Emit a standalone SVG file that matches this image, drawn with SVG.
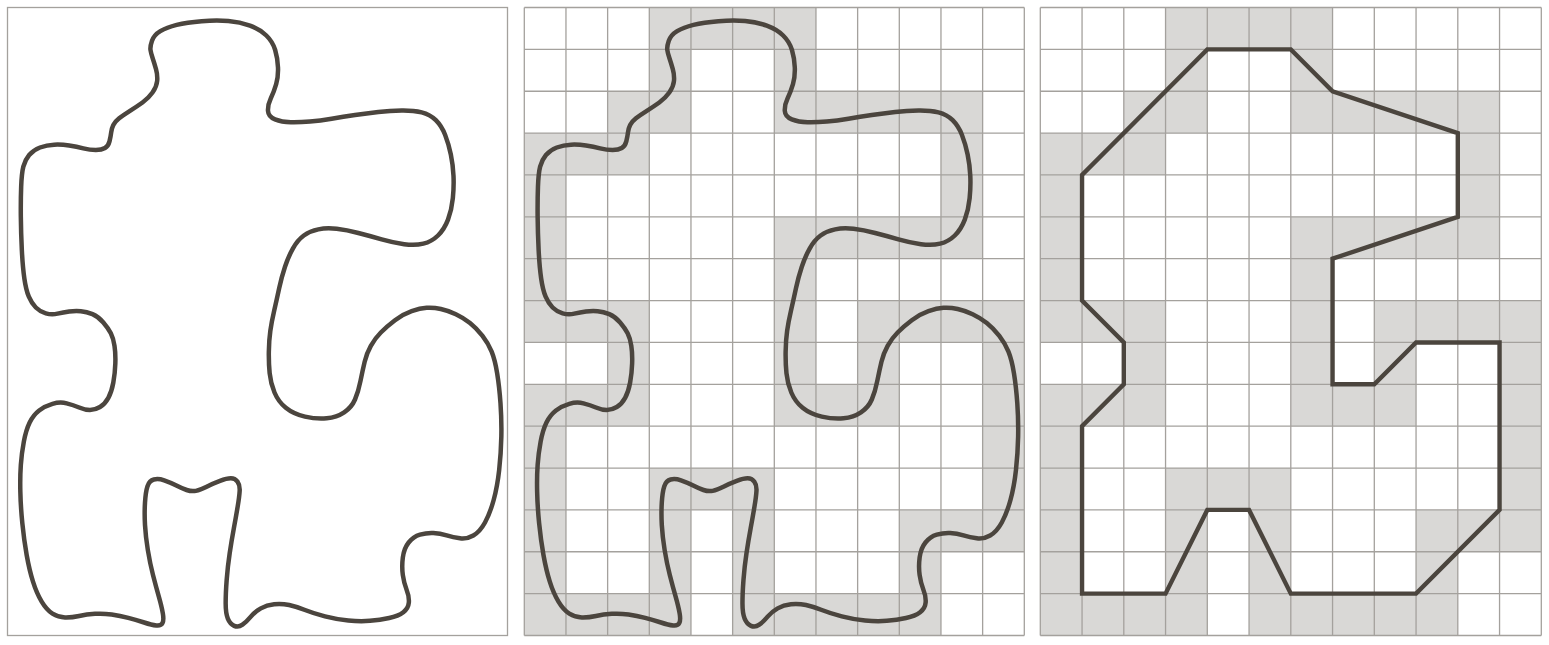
<svg xmlns="http://www.w3.org/2000/svg" xmlns:xlink="http://www.w3.org/1999/xlink" width="1549" height="645" viewBox="0 0 1549 645">
<style>
.shade{fill:#d9d8d6}
.grid{fill:none;stroke:#a4a19d;stroke-width:1.3}
.frame{fill:none;stroke:#a4a19d;stroke-width:1.3}
.blob{fill:none;stroke:#4b453e;stroke-width:13.5;stroke-linejoin:round}
.poly{fill:none;stroke:#4b453e;stroke-width:4.4;stroke-linejoin:miter}
</style>
<defs>
<g id="cells">
<rect x="3" y="0" width="4" height="1"/>
<rect x="3" y="1" width="1" height="1"/><rect x="6" y="1" width="1" height="1"/>
<rect x="2" y="2" width="2" height="1"/><rect x="6" y="2" width="5" height="1"/>
<rect x="0" y="3" width="3" height="1"/><rect x="10" y="3" width="1" height="1"/>
<rect x="0" y="4" width="1" height="1"/><rect x="10" y="4" width="1" height="1"/>
<rect x="0" y="5" width="1" height="1"/><rect x="6" y="5" width="5" height="1"/>
<rect x="0" y="6" width="1" height="1"/><rect x="6" y="6" width="1" height="1"/>
<rect x="0" y="7" width="3" height="1"/><rect x="6" y="7" width="1" height="1"/><rect x="8" y="7" width="4" height="1"/>
<rect x="2" y="8" width="1" height="1"/><rect x="6" y="8" width="1" height="1"/><rect x="8" y="8" width="1" height="1"/><rect x="11" y="8" width="1" height="1"/>
<rect x="0" y="9" width="3" height="1"/><rect x="6" y="9" width="3" height="1"/><rect x="11" y="9" width="1" height="1"/>
<rect x="0" y="10" width="1" height="1"/><rect x="11" y="10" width="1" height="1"/>
<rect x="0" y="11" width="1" height="1"/><rect x="3" y="11" width="3" height="1"/><rect x="11" y="11" width="1" height="1"/>
<rect x="0" y="12" width="1" height="1"/><rect x="3" y="12" width="1" height="1"/><rect x="5" y="12" width="1" height="1"/><rect x="9" y="12" width="3" height="1"/>
<rect x="0" y="13" width="1" height="1"/><rect x="3" y="13" width="1" height="1"/><rect x="5" y="13" width="1" height="1"/><rect x="9" y="13" width="1" height="1"/>
<rect x="0" y="14" width="4" height="1"/><rect x="5" y="14" width="5" height="1"/>
</g>
<path id="gridlines" vector-effect="non-scaling-stroke" d="M0 0V15M1 0V15M2 0V15M3 0V15M4 0V15M5 0V15M6 0V15M7 0V15M8 0V15M9 0V15M10 0V15M11 0V15M12 0V15M0 0H12M0 1H12M0 2H12M0 3H12M0 4H12M0 5H12M0 6H12M0 7H12M0 8H12M0 9H12M0 10H12M0 11H12M0 12H12M0 13H12M0 14H12M0 15H12"/>
<path id="blob" d="M451.5,150 Q450,140 456,122.5 Q462,105 481,93.5 Q500,82 530,74.5 Q560,67 605,63.5 Q650,60 685,63 Q720,66 750,77 Q780,88 799,106.5 Q818,125 825.5,150 Q833,175 834,202.5 Q835,230 828.5,252.5 Q822,275 812.5,295 Q803,315 804,332.5 Q805,350 825,358 Q845,366 872.5,366.5 Q900,367 930,364.5 Q960,362 995,356 Q1030,350 1065,345 Q1100,340 1135,336 Q1170,332 1205,331.5 Q1240,331 1265,337 Q1290,343 1307.5,360.5 Q1325,378 1335.5,405 Q1346,432 1352.5,463.5 Q1359,495 1360.5,527.5 Q1362,560 1358.5,595 Q1355,630 1344,659 Q1333,688 1314,706.5 Q1295,725 1270,731 Q1245,737 1212.5,732.5 Q1180,728 1145,718 Q1110,708 1075,699 Q1040,690 1010,686.5 Q980,683 955,688 Q930,693 911.5,706.5 Q893,720 879,745 Q865,770 855,800 Q845,830 837.5,865 Q830,900 822.5,932.5 Q815,965 811,992.5 Q807,1020 806.5,1055 Q806,1090 809,1120 Q812,1150 823.5,1177.5 Q835,1205 857.5,1223.5 Q880,1242 915,1250 Q950,1258 980,1255 Q1010,1252 1032.5,1237 Q1055,1222 1065,1198.5 Q1075,1175 1081.5,1142.5 Q1088,1110 1094,1085 Q1100,1060 1112.5,1037.5 Q1125,1015 1142.5,997.5 Q1160,980 1185,961 Q1210,942 1235,933.5 Q1260,925 1280,923.5 Q1300,922 1322.5,927 Q1345,932 1367.5,942.5 Q1390,953 1410,969 Q1430,985 1447.5,1007.5 Q1465,1030 1475,1055 Q1485,1080 1491.5,1120 Q1498,1160 1501.5,1210 Q1505,1260 1504,1310 Q1503,1360 1497.5,1410 Q1492,1460 1481,1500 Q1470,1540 1455,1567.5 Q1440,1595 1420,1606.5 Q1400,1618 1380,1615 Q1360,1612 1340,1606 Q1320,1600 1300,1599 Q1280,1598 1260,1604 Q1240,1610 1226,1627.5 Q1212,1645 1208.5,1672.5 Q1205,1700 1208.5,1725 Q1212,1750 1220,1770 Q1228,1790 1226.5,1807.5 Q1225,1825 1210,1836.5 Q1195,1848 1167.5,1854 Q1140,1860 1110,1862.5 Q1080,1865 1045,1861.5 Q1010,1858 975,1849 Q940,1840 915,1830 Q890,1820 867.5,1815 Q845,1810 822.5,1812.5 Q800,1815 782.5,1825 Q765,1835 752.5,1850 Q740,1865 727.5,1874 Q715,1883 702.5,1877.5 Q690,1872 683.5,1856 Q677,1840 677,1810 Q677,1780 680,1740 Q683,1700 689,1660 Q695,1620 701.5,1585 Q708,1550 713,1520 Q718,1490 719,1472.5 Q720,1455 712.5,1445 Q705,1435 692.5,1435 Q680,1435 660,1442.5 Q640,1450 620,1460 Q600,1470 587.5,1472.5 Q575,1475 560,1470 Q545,1465 527.5,1456 Q510,1447 492.5,1441 Q475,1435 461.5,1438.5 Q448,1442 442.5,1458.5 Q437,1475 435,1507.5 Q433,1540 435,1575 Q437,1610 443.5,1650 Q450,1690 459,1725 Q468,1760 476.5,1790 Q485,1820 488.5,1840 Q492,1860 487.5,1869 Q483,1878 469,1876.5 Q455,1875 432.5,1867.5 Q410,1860 385,1853.5 Q360,1847 335,1843.5 Q310,1840 285,1841.5 Q260,1843 237.5,1848 Q215,1853 195,1852.5 Q175,1852 157.5,1841 Q140,1830 125,1805 Q110,1780 99,1745 Q88,1710 80,1665 Q72,1620 67,1570 Q62,1520 61,1475 Q60,1430 62.5,1395 Q65,1360 71.5,1325 Q78,1290 89,1267.5 Q100,1245 117.5,1231.5 Q135,1218 157.5,1211.5 Q180,1205 200,1210 Q220,1215 237.5,1222.5 Q255,1230 270,1230 Q285,1230 300,1221 Q315,1212 325,1193.5 Q335,1175 340,1147.5 Q345,1120 346,1090 Q347,1060 343.5,1037.5 Q340,1015 332.5,1000 Q325,985 310,967.5 Q295,950 277.5,942.5 Q260,935 242.5,933.5 Q225,932 207.5,934.5 Q190,937 172.5,941 Q155,945 137.5,940 Q120,935 107.5,922.5 Q95,910 86.5,890 Q78,870 73,835 Q68,800 65.5,750 Q63,700 62.5,650 Q62,600 63.5,560 Q65,520 70,500 Q75,480 87.5,465 Q100,450 120,442.5 Q140,435 162.5,434 Q185,433 207.5,436.5 Q230,440 250,445 Q270,450 287.5,450 Q305,450 315,444 Q325,438 328.5,424 Q332,410 333.5,397.5 Q335,385 340,375 Q345,365 357.5,355 Q370,345 390,332.5 Q410,320 427.5,307.5 Q445,295 457.5,277.5 Q470,260 471.5,242.5 Q473,225 468,207.5 Q463,190 458,175 Q453,160 451.5,150 Z"/>
</defs>
<rect width="1549" height="645" fill="#ffffff"/>
<g id="panel-left">
<rect class="frame" x="7.5" y="7.5" width="500" height="628"/>
<use xlink:href="#blob" href="#blob" class="blob" transform="scale(0.333333)"/>
</g>
<g id="panel-middle">
<g transform="translate(524.3,7.5) scale(41.6667,41.867)">
<use xlink:href="#cells" href="#cells" class="shade"/>
<use xlink:href="#gridlines" href="#gridlines" class="grid"/>
</g>
<use xlink:href="#blob" href="#blob" class="blob" transform="translate(516.8,0) scale(0.333333)"/>
</g>
<g id="panel-right">
<g transform="translate(1040.3,7.5) scale(41.75,41.867)">
<use xlink:href="#cells" href="#cells" class="shade"/>
<use xlink:href="#gridlines" href="#gridlines" class="grid"/>
<polygon class="poly" vector-effect="non-scaling-stroke" points="4,1 6,1 7,2 10,3 10,5 7,6 7,9 8,9 9,8 11,8 11,12 9,14 6,14 5,12 4,12 3,14 1,14 1,10 2,9 2,8 1,7 1,4"/>
</g>
</g>
</svg>
